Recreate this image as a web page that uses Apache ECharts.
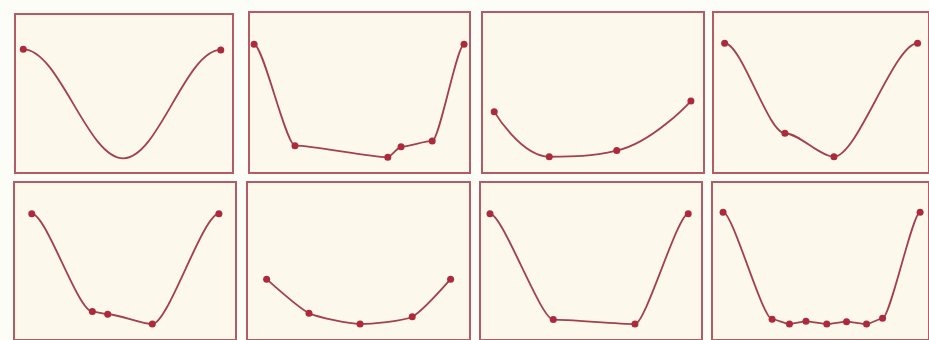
<!DOCTYPE html>
<html>
<head>
<meta charset="utf-8">
<script src="https://cdn.jsdelivr.net/npm/echarts@6/dist/echarts.min.js"></script>
<style>
html,body{margin:0;padding:0;background:#fdfdf7;}
#c{width:929px;height:340px;}
</style>
</head>
<body>
<div id="c"></div>
<script>
// Values in panel units (x: 0-100 across, y: 0-100 upward)
const panel1 = [[3.8,77.8],[49.7,9.2],[94.4,77.4]];
const panel1Hidden = [1];
const panel2 = [[2.3,79.9],[20.8,17.0],[62.8,9.8],[68.8,16.3],[82.9,19.9],[97.3,79.9]];
const panel3 = [[5.5,38.1],[30.3,10.1],[60.7,13.9],[94.1,44.7]];
const panel4 = [[5.4,80.6],[33.3,24.7],[56.0,10.1],[94.7,80.6]];
const panel5 = [[8.0,79.9],[35.3,18.0],[42.2,16.3],[62.3,10.1],[92.3,79.9]];
const panel6 = [[8.8,38.5],[27.8,17.0],[50.7,10.1],[74.1,14.7],[91.3,38.5]];
const panel7 = [[4.5,79.9],[33.0,12.9],[69.8,10.1],[93.8,79.9]];
const panel8 = [[5.1,80.9],[27.7,13.2],[35.7,10.1],[43.3,11.8],[52.9,10.1],[62.0,11.6],[71.2,10.1],[78.6,13.7],[95.9,80.9]];

// curve styling per panel: flat = curve leaves the end dots horizontally
const panels = [
  {data: panel1, hidden: panel1Hidden, smooth: 0.36, flat: true, mono: true},
  {data: panel2, hidden: [], smooth: 0.22, flat: true, mono: true},
  {data: panel3, hidden: [], smooth: 0.45, flat: false, mono: false},
  {data: panel4, hidden: [], smooth: 0.28, flat: true, mono: true},
  {data: panel5, hidden: [], smooth: 0.24, flat: true, mono: true},
  {data: panel6, hidden: [], smooth: 0.2, flat: false, mono: false},
  {data: panel7, hidden: [], smooth: 0.2, flat: true, mono: true},
  {data: panel8, hidden: [], smooth: 0.2, flat: true, mono: true}
];
const rects = [
  {left:15, top:14, width:218, height:159},
  {left:249, top:12, width:221, height:161},
  {left:482, top:12, width:222, height:161},
  {left:713, top:12, width:221, height:161},
  {left:14, top:182, width:222, height:161},
  {left:247, top:182, width:223, height:161},
  {left:480, top:182, width:222, height:161},
  {left:712, top:182, width:221, height:161}
];

const grid = [], xAxis = [], yAxis = [], series = [];
panels.forEach((p, i) => {
  grid.push(Object.assign({show:true, backgroundColor:'#fcf9ec', borderColor:'#b45c65', borderWidth:2, containLabel:false}, rects[i]));
  xAxis.push({type:'value', gridIndex:i, min:0, max:100, show:false});
  yAxis.push({type:'value', gridIndex:i, min:0, max:100, show:false});
  let items = p.data.map((d, j) => p.hidden.indexOf(j) >= 0 ? {value:d, symbolSize:0} : {value:d});
  if (p.flat) {
    // invisible tangent guides hidden under the end dots
    const a = p.data[0], b = p.data[p.data.length - 1];
    items = [{value:[a[0] - 1.2, a[1]], symbolSize:0}].concat(items, [{value:[b[0] + 1.2, b[1]], symbolSize:0}]);
  }
  const s = {
    type:'line', xAxisIndex:i, yAxisIndex:i, smooth:p.smooth,
    symbol:'circle', symbolSize:7, showAllSymbol:true,
    lineStyle:{color:'#a3404b', width:1.8},
    itemStyle:{color:'#ad2a3d'},
    data: items,
    animation:false, silent:true
  };
  if (p.mono) s.smoothMonotone = 'x';
  series.push(s);
});

const chart = echarts.init(document.getElementById('c'), null, {renderer:'canvas'});
chart.setOption({backgroundColor:'#fdfdf7', animation:false, grid, xAxis, yAxis, series});
</script>
</body>
</html>
